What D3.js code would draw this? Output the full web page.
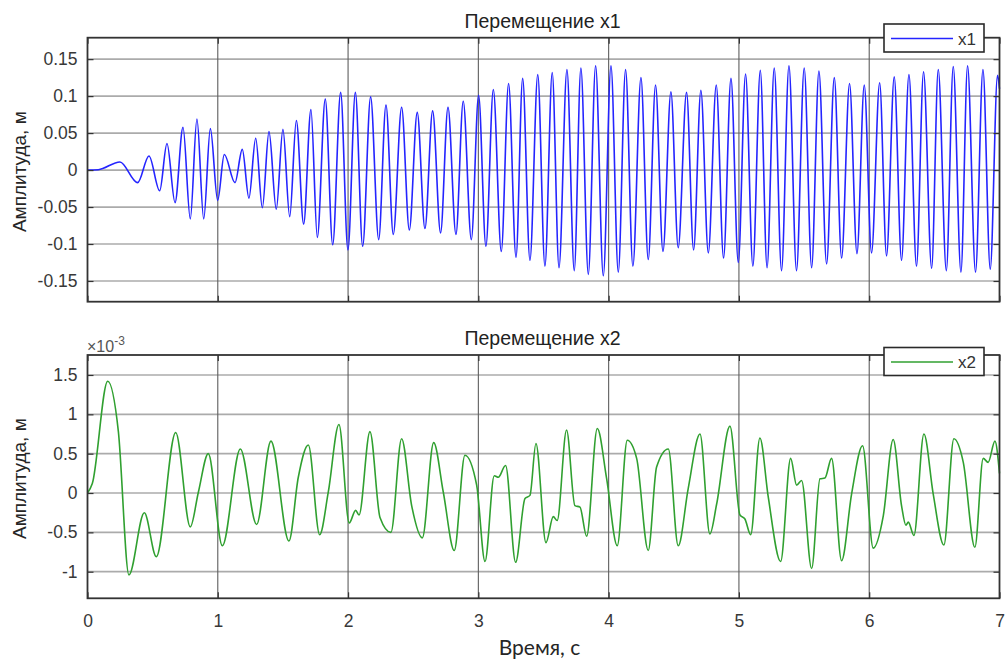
<!DOCTYPE html>
<html>
<head>
<meta charset="utf-8">
<script src="https://cdn.jsdelivr.net/npm/d3@7"></script>
<style>
  body { margin: 0; background: #fff; }
  svg { display: block; }
  text { font-family: "Liberation Sans", Arial, sans-serif; }
</style>
</head>
<body>
<svg id="chart" width="1005" height="662"></svg>
<script>
// ---- data -------------------------------------------------------------
const timeTicks = [0, 1, 2, 3, 4, 5, 6, 7];
const timeTickLabels = ["0", "1", "2", "3", "4", "5", "6", "7"];

const x1Ticks = [-0.15, -0.1, -0.05, 0, 0.05, 0.1, 0.15];
const x1TickLabels = ["-0.15", "-0.1", "-0.05", "0", "0.05", "0.1", "0.15"];

const x2Ticks = [-1, -0.5, 0, 0.5, 1, 1.5];
const x2TickLabels = ["-1", "-0.5", "0", "0.5", "1", "1.5"];

// x1 displacement, m: turning points of the response (time, s)
const x1Time = [
  0, 0.083, 0.249, 0.385, 0.472, 0.554, 0.610, 0.672, 0.733, 0.789,
  0.840, 0.892, 0.943, 0.999, 1.050, 1.132, 1.188, 1.239, 1.291, 1.342,
  1.393, 1.449, 1.500, 1.552, 1.603, 1.659, 1.715, 1.764, 1.825, 1.882,
  1.943, 1.999, 2.056, 2.112, 2.173, 2.235, 2.291, 2.347, 2.411, 2.470,
  2.531, 2.590, 2.649, 2.710, 2.767, 2.828, 2.884, 2.946, 3.002, 3.058,
  3.115, 3.176, 3.232, 3.289, 3.340, 3.396, 3.456, 3.511, 3.567, 3.619,
  3.680, 3.736, 3.787, 3.844, 3.900, 3.959, 4.018, 4.074, 4.130, 4.186,
  4.248, 4.304, 4.360, 4.417, 4.478, 4.534, 4.598, 4.652, 4.708, 4.765,
  4.826, 4.882, 4.939, 4.995, 5.051, 5.107, 5.164, 5.216, 5.271, 5.327,
  5.384, 5.442, 5.501, 5.558, 5.614, 5.673, 5.732, 5.788, 5.849, 5.906,
  5.962, 6.018, 6.080, 6.133, 6.192, 6.248, 6.305, 6.363, 6.417, 6.479,
  6.530, 6.592, 6.645, 6.704, 6.755, 6.816, 6.873, 6.929, 6.985, 7.000
];
const x1Value = [
  0, 0.0005, 0.011, -0.017, 0.019, -0.028, 0.036, -0.044, 0.058, -0.066,
  0.069, -0.066, 0.056, -0.041, 0.021, -0.017, 0.028, -0.038, 0.043, -0.051,
  0.052, -0.053, 0.055, -0.063, 0.067, -0.073, 0.082, -0.091, 0.096, -0.101,
  0.105, -0.108, 0.105, -0.103, 0.099, -0.094, 0.088, -0.087, 0.085, -0.081,
  0.078, -0.079, 0.080, -0.085, 0.085, -0.087, 0.093, -0.094, 0.101, -0.103,
  0.109, -0.110, 0.117, -0.118, 0.124, -0.122, 0.129, -0.130, 0.132, -0.132,
  0.136, -0.136, 0.138, -0.141, 0.141, -0.143, 0.141, -0.138, 0.136, -0.130,
  0.125, -0.121, 0.115, -0.110, 0.106, -0.105, 0.105, -0.108, 0.108, -0.112,
  0.115, -0.119, 0.124, -0.125, 0.130, -0.130, 0.135, -0.132, 0.138, -0.136,
  0.141, -0.136, 0.138, -0.132, 0.134, -0.127, 0.125, -0.119, 0.117, -0.113,
  0.115, -0.112, 0.118, -0.116, 0.126, -0.122, 0.129, -0.130, 0.133, -0.133,
  0.136, -0.136, 0.140, -0.138, 0.141, -0.138, 0.136, -0.134, 0.128, 0.110
];

// x2 displacement, ×10^-3 m (time, s)
const x2Time = [
  0, 0.037, 0.155, 0.237, 0.318, 0.436, 0.528, 0.677, 0.789, 0.851,
  0.927, 1.035, 1.173, 1.298, 1.408, 1.546, 1.618, 1.695, 1.782, 1.848,
  1.930, 2.009, 2.058, 2.084, 2.168, 2.245, 2.329, 2.411, 2.488, 2.570,
  2.657, 2.731, 2.815, 2.897, 2.987, 3.051, 3.122, 3.153, 3.209, 3.286,
  3.358, 3.396, 3.442, 3.519, 3.575, 3.605, 3.677, 3.741, 3.780, 3.831,
  3.913, 3.984, 4.066, 4.143, 4.215, 4.304, 4.368, 4.458, 4.534, 4.611,
  4.701, 4.777, 4.829, 4.931, 5.008, 5.046, 5.090, 5.161, 5.225, 5.320,
  5.397, 5.443, 5.481, 5.558, 5.622, 5.660, 5.711, 5.788, 5.865, 5.949,
  6.031, 6.108, 6.184, 6.248, 6.282, 6.300, 6.343, 6.420, 6.491, 6.573,
  6.650, 6.722, 6.811, 6.875, 6.913, 6.965, 7.000
];
const x2Value = [
  0, 0.12, 1.42, 0.78, -1.04, -0.25, -0.81, 0.77, -0.43, 0.01,
  0.50, -0.67, 0.56, -0.40, 0.66, -0.61, 0.20, 0.61, -0.53, 0.01,
  0.87, -0.38, -0.22, -0.28, 0.78, -0.31, -0.50, 0.69, -0.16, -0.57,
  0.64, 0.01, -0.73, 0.48, 0.10, -0.87, 0.22, 0.20, 0.35, -0.88,
  -0.07, -0.03, 0.63, -0.63, -0.30, -0.35, 0.80, -0.16, -0.18, -0.55,
  0.82, 0.19, -0.67, 0.67, 0.44, -0.73, 0.33, 0.56, -0.67, 0.06,
  0.75, -0.52, -0.14, 0.85, -0.28, -0.33, -0.53, 0.70, -0.05, -0.87,
  0.44, 0.10, 0.16, -0.96, 0.18, 0.19, 0.44, -0.86, -0.01, 0.60,
  -0.70, -0.29, 0.68, -0.16, -0.41, -0.37, -0.54, 0.75, -0.01, -0.66,
  0.69, 0.39, -0.69, 0.44, 0.39, 0.66, 0.25
];

// ---- layout -----------------------------------------------------------
const svg = d3.select("#chart");
const plotLeft = 87.5, plotRight = 999.5;
const x = d3.scaleLinear().domain([0, 7]).range([plotLeft, plotRight]);

function drawPanel(p) {
  const y = d3.scaleLinear().domain(p.yDomain).range([p.bottom, p.top]);
  const g = svg.append("g");
  const h = p.bottom - p.top;

  // horizontal grid
  g.append("g").selectAll("line").data(p.yTicks).join("line")
    .attr("x1", plotLeft).attr("x2", plotRight)
    .attr("y1", d => y(d)).attr("y2", d => y(d))
    .attr("stroke", "#ababab").attr("stroke-width", 1.7);
  // vertical grid
  g.append("g").selectAll("line").data(timeTicks.slice(1, -1)).join("line")
    .attr("x1", d => x(d)).attr("x2", d => x(d))
    .attr("y1", p.top).attr("y2", p.bottom)
    .attr("stroke", "#5e5e5e").attr("stroke-width", 1.1);

  // series
  const line = d3.line()
    .x((d, i) => x(p.time[i]))
    .y(d => y(d))
    .curve(d3.curveMonotoneX);
  g.append("path").datum(p.values)
    .attr("d", line)
    .attr("fill", "none")
    .attr("stroke", p.color)
    .attr("stroke-width", 1.6)
    .attr("stroke-linejoin", "round");

  // axes with inward ticks
  const left = g.append("g").attr("transform", `translate(${plotLeft},0)`)
    .call(d3.axisLeft(y).tickValues(p.yTicks).tickSize(-6).tickPadding(10)
      .tickFormat((d, i) => p.yLabels[i]));
  const right = g.append("g").attr("transform", `translate(${plotRight},0)`)
    .call(d3.axisRight(y).tickValues(p.yTicks).tickSize(-6).tickFormat(""));
  const topAx = g.append("g").attr("transform", `translate(0,${p.top})`)
    .call(d3.axisTop(x).tickValues(timeTicks).tickSize(-6).tickFormat(""));
  const bottomAx = g.append("g").attr("transform", `translate(0,${p.bottom})`)
    .call(d3.axisBottom(x).tickValues(timeTicks).tickSize(-6).tickPadding(16)
      .tickFormat((d, i) => p.showTime ? timeTickLabels[i] : ""));
  [left, right, topAx, bottomAx].forEach(a => {
    a.select(".domain").remove();
    a.selectAll(".tick line").attr("stroke", "#333").attr("stroke-width", 1.2);
    a.selectAll(".tick text").attr("fill", "#383838")
      .style("font-size", "17.5px").style("font-family", "'Liberation Sans', Arial, sans-serif");
  });

  // frame
  g.append("rect")
    .attr("x", plotLeft).attr("y", p.top)
    .attr("width", plotRight - plotLeft).attr("height", h)
    .attr("fill", "none").attr("stroke", "#333").attr("stroke-width", 1.8);

  // title
  g.append("text")
    .attr("x", (plotLeft + plotRight) / 2 - 1).attr("y", p.top - 10)
    .attr("text-anchor", "middle")
    .attr("fill", "#222").style("font-size", "19.5px")
    .text(p.title);

  // y label
  g.append("text")
    .attr("transform", `translate(26,${(p.top + p.bottom) / 2 + 2}) rotate(-90)`)
    .attr("text-anchor", "middle")
    .attr("fill", "#262626").style("font-size", "19px")
    .text("Амплитуда, м");

  // legend
  const lg = g.append("g");
  lg.append("rect")
    .attr("x", 884).attr("y", p.legendTop)
    .attr("width", 100).attr("height", 28)
    .attr("fill", "#fff").attr("stroke", "#2a2a2a").attr("stroke-width", 1.6);
  lg.append("line")
    .attr("x1", 891).attr("x2", 953)
    .attr("y1", p.legendTop + 14.5).attr("y2", p.legendTop + 14.5)
    .attr("stroke", p.color).attr("stroke-width", 1.6);
  lg.append("text")
    .attr("x", 958).attr("y", p.legendTop + 20.5)
    .attr("fill", "#333").style("font-size", "17px")
    .text(p.name);

  return y;
}

drawPanel({
  top: 37.7, bottom: 301.7, yDomain: [-0.178, 0.179],
  yTicks: x1Ticks, yLabels: x1TickLabels,
  time: x1Time, values: x1Value, color: "#2424ff",
  title: "Перемещение x1", name: "x1", legendTop: 24, showTime: false
});

drawPanel({
  top: 355, bottom: 598.3, yDomain: [-1.338, 1.754],
  yTicks: x2Ticks, yLabels: x2TickLabels,
  time: x2Time, values: x2Value, color: "#30a030",
  title: "Перемещение x2", name: "x2", legendTop: 347.5, showTime: true
});

// exponent marker for the lower panel
const expo = svg.append("text")
  .attr("x", 87).attr("y", 352)
  .attr("fill", "#555").style("font-size", "16px");
expo.append("tspan").text("×10");
expo.append("tspan").attr("dy", -7).style("font-size", "12px").text("-3");

// x label
svg.append("text")
  .attr("x", 539.5).attr("y", 655)
  .attr("text-anchor", "middle")
  .attr("fill", "#262626")
  .style("font-family", "Lato, 'Open Sans', sans-serif")
  .style("font-size", "21px")
  .text("Время, с");
</script>
</body>
</html>
